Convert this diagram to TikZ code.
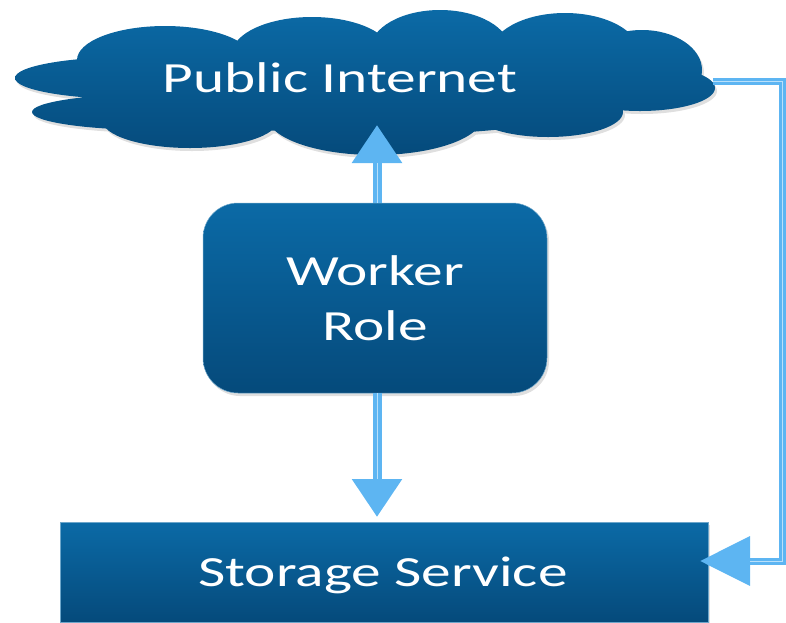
\documentclass[tikz,border=0pt]{standalone}
\usepackage{fontspec}
\setmainfont{Carlito}
\usepackage{graphicx}
\usepackage{tikz}
\usetikzlibrary{arrows.meta}
\usetikzlibrary{shadows}

\definecolor{boxtop}{HTML}{0B6AA6}
\definecolor{boxbottom}{HTML}{054A7B}
\definecolor{linkblue}{HTML}{5DB5F2}
\definecolor{linkpale}{HTML}{B9E0FA}

\newcommand{\widetext}[1]{\scalebox{1.38}[1]{#1}}

\begin{document}
\begin{tikzpicture}[x=1pt, y=-1pt,
    softshadow/.style={drop shadow={opacity=0.25, shadow xshift=2pt, shadow yshift=-3pt}},
    box/.style={top color=boxtop, bottom color=boxbottom, draw=boxtop!60!white, line width=0.5pt,
        text=white, align=center, font=\fontsize{43}{55}\selectfont, softshadow},
    label/.style={text=white, font=\fontsize{43}{55}\selectfont, anchor=base},
    link/.style 2 args={draw=linkblue, line width=#2, -{Triangle[length=#1, width=48pt]},
        postaction={draw=linkpale, line width=1pt, -, shorten >=#1}},
    link/.default={38pt}{9pt}]
    \useasboundingbox (0, 0) rectangle (786, 622);

    % cloud
    \shade[top color=boxtop, bottom color=boxbottom, softshadow]
        (130, 78) ellipse [x radius=115, y radius=21]
        (155, 112) ellipse [x radius=123, y radius=18]
        (165, 60) ellipse [x radius=88, y radius=34]
        (312, 54) ellipse [x radius=80, y radius=37]
        (440, 50) ellipse [x radius=70, y radius=40]
        (565, 54) ellipse [x radius=75, y radius=41]
        (642, 70) ellipse [x radius=60, y radius=40]
        (640, 88) ellipse [x radius=75, y radius=23]
        (190, 120) ellipse [x radius=88, y radius=28]
        (375, 116) ellipse [x radius=108, y radius=39]
        (548, 112) ellipse [x radius=75, y radius=25]
        (380, 85) ellipse [x radius=260, y radius=50];
    \node[label] (inet) at (340, 92) {\widetext{Public Internet}};

    \node[box, minimum width=344, minimum height=190, rounded corners=35] (worker) at (375, 298)
        {\widetext{Worker}\\\widetext{Role}};
    \node[box, minimum width=648, minimum height=100] (store) at (384, 572) {};
    \node[label] (storetext) at (383, 586) {\widetext{Storage Service}};

    \coordinate (inet in) at (377, 125);
    \coordinate (inet out) at (713, 81);
    \coordinate (store top) at (377, 517);
    \coordinate (store in) at (700, 561);
    \coordinate (edge) at (782, 0);

    \draw[link] (worker.north -| inet in) -- (inet in);
    \draw[link] (worker.south -| inet in) -- (store top);
    \draw[link={50pt}{7pt}] (inet out) -| (edge |- store in) -- (store in);
\end{tikzpicture}
\end{document}
